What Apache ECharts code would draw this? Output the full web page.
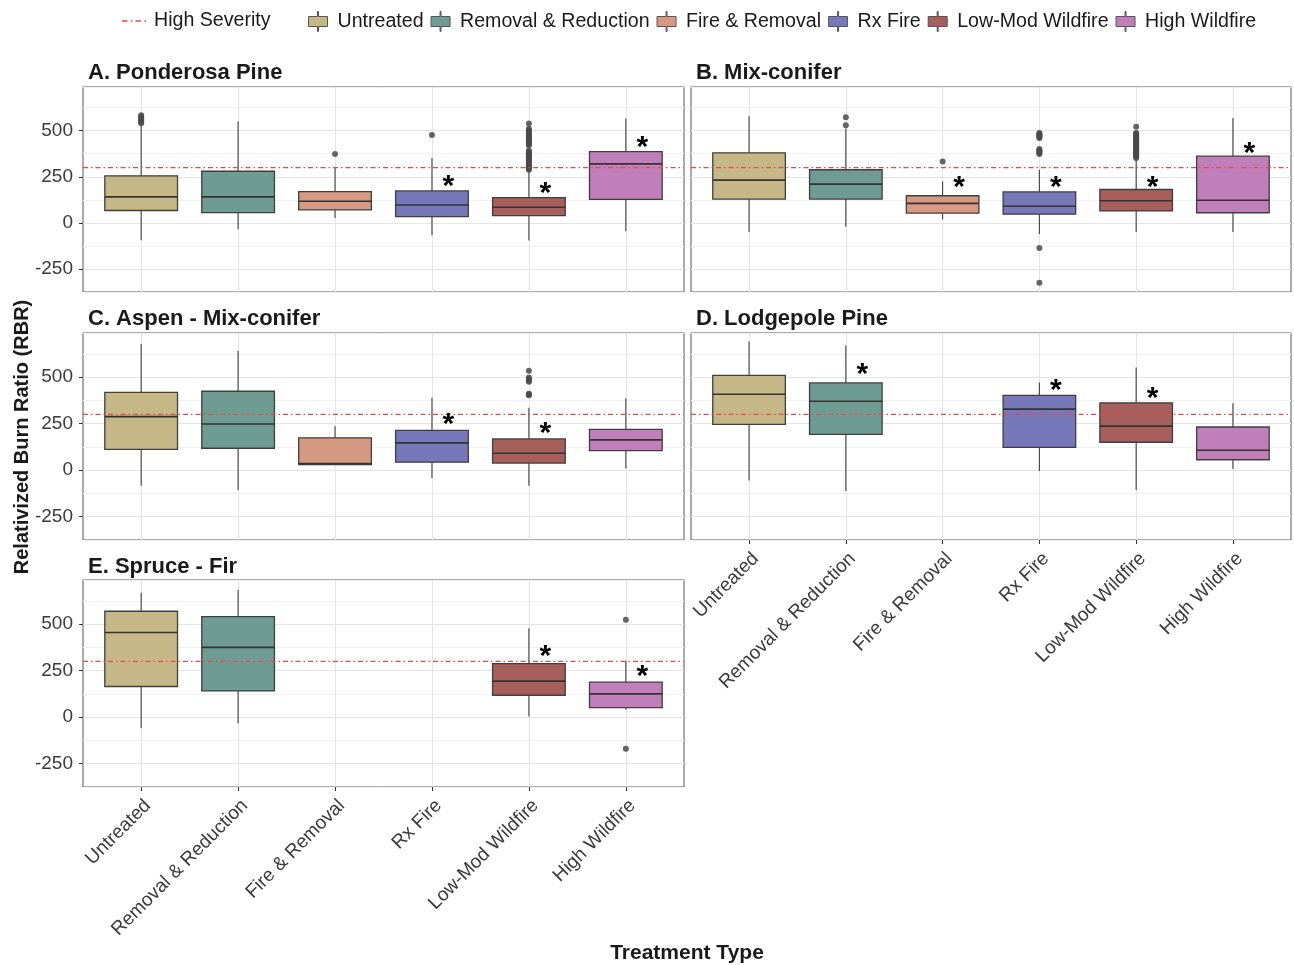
<!DOCTYPE html>
<html>
<head>
<meta charset="utf-8">
<script src="https://cdn.jsdelivr.net/npm/echarts@6/dist/echarts.min.js"></script>
<style>
  html, body { margin: 0; padding: 0; background: #ffffff; }
  #chart { width: 1294px; height: 965px; }
</style>
</head>
<body>
<div id="chart"></div>
<script>
// Treatment categories (x axis) and their fill colours
const treatments = ['Untreated', 'Removal & Reduction', 'Fire & Removal', 'Rx Fire', 'Low-Mod Wildfire', 'High Wildfire'];
const treatmentColors = ['#c6b886', '#6f9c92', '#d69a83', '#7678ba', '#a65f5a', '#c07fbb'];

const panelTitles = ['A. Ponderosa Pine', 'B. Mix-conifer', 'C. Aspen - Mix-conifer', 'D. Lodgepole Pine', 'E. Spruce - Fir'];

// High severity RBR threshold
const highSeverity = 300;

// Y axis tick labels
const yTicks = [-250, 0, 250, 500];

// Box summaries per treatment: [lower whisker, Q1, median, Q3, upper whisker]; null = no plots
const ponderosaBoxes = [
  [-94, 67, 141, 255, 530],
  [-34, 56, 141, 280, 551],
  [27, 71, 117, 170, 302],
  [-67, 34, 97, 173, 352],
  [-96, 39, 85, 137, 280],
  [-45, 127, 320, 386, 566]
];
const mixedConiferBoxes = [
  [-49, 129, 232, 380, 578],
  [-21, 129, 210, 288, 512],
  [18, 53, 106, 147, 224],
  [-60, 47, 90, 168, 288],
  [-49, 65, 120, 181, 345],
  [-49, 55, 123, 362, 569]
];
const aspenBoxes = [
  [-83, 112, 288, 418, 679],
  [-107, 118, 248, 424, 641],
  [30, 30, 36, 174, 236],
  [-42, 43, 147, 214, 389],
  [-83, 38, 91, 168, 335],
  [9, 105, 163, 219, 386]
];
const lodgepoleBoxes = [
  [-56, 246, 408, 509, 692],
  [-112, 192, 370, 469, 670],
  null,
  [-5, 123, 328, 402, 471],
  [-107, 150, 237, 362, 551],
  [7, 56, 107, 232, 359]
];
const spruceFirBoxes = [
  [-60, 165, 455, 569, 668],
  [-34, 141, 375, 540, 683],
  null,
  null,
  [4, 118, 194, 288, 478],
  [40, 51, 125, 188, 303]
];

// Outlying plots: [treatment number (1-6), RBR]
const ponderosaOutliers = [
  [1, 540], [1, 547], [1, 553], [1, 560], [1, 567], [1, 575], [1, 584],
  [3, 373],
  [4, 477],
  [5, 288], [5, 294], [5, 300], [5, 306], [5, 312], [5, 318], [5, 324], [5, 330],
  [5, 336], [5, 342], [5, 348], [5, 354], [5, 360], [5, 366], [5, 372], [5, 378],
  [5, 385], [5, 392], [5, 421], [5, 428], [5, 435], [5, 442], [5, 449], [5, 456],
  [5, 463], [5, 470], [5, 478], [5, 486], [5, 494], [5, 502], [5, 510], [5, 539]
];
const mixedConiferOutliers = [
  [2, 530], [2, 573],
  [3, 333],
  [4, 461], [4, 466], [4, 471], [4, 476], [4, 482], [4, 488],
  [4, 374], [4, 380], [4, 387], [4, 394], [4, 401], [4, -137], [4, -325],
  [5, 352], [5, 358], [5, 364], [5, 370], [5, 376], [5, 382], [5, 388], [5, 394],
  [5, 400], [5, 406], [5, 412], [5, 418], [5, 424], [5, 430], [5, 436], [5, 442],
  [5, 448], [5, 454], [5, 460], [5, 466], [5, 472], [5, 478], [5, 484], [5, 488], [5, 521]
];
const aspenOutliers = [
  [5, 402], [5, 407], [5, 411], [5, 475], [5, 482], [5, 490], [5, 498], [5, 534]
];
const lodgepoleOutliers = [];
const spruceFirOutliers = [[6, 524], [6, -170]];

// Significance markers (y position of the asterisk); null = not significant
const ponderosaStars = [null, null, null, 232, 195, 448];
const mixedConiferStars = [null, null, 228, 228, 228, 414];
const aspenStars = [null, null, null, 283, 235, null];
const lodgepoleStars = [null, 548, null, 462, 419, null];
const spruceFirStars = [null, null, null, null, 365, 256];

const panels = [
  { title: panelTitles[0], boxes: ponderosaBoxes, outliers: ponderosaOutliers, stars: ponderosaStars, showX: false, showY: true },
  { title: panelTitles[1], boxes: mixedConiferBoxes, outliers: mixedConiferOutliers, stars: mixedConiferStars, showX: false, showY: false },
  { title: panelTitles[2], boxes: aspenBoxes, outliers: aspenOutliers, stars: aspenStars, showX: false, showY: true },
  { title: panelTitles[3], boxes: lodgepoleBoxes, outliers: lodgepoleOutliers, stars: lodgepoleStars, showX: true, showY: false },
  { title: panelTitles[4], boxes: spruceFirBoxes, outliers: spruceFirOutliers, stars: spruceFirStars, showX: true, showY: true }
];

// Panel layout
const gridRects = [
  { left: 83, top: 87, width: 601, height: 205 },
  { left: 691, top: 87, width: 600, height: 205 },
  { left: 83, top: 333, width: 601, height: 207 },
  { left: 691, top: 333, width: 600, height: 207 },
  { left: 83, top: 580, width: 601, height: 207 }
];
const titleTops = [57, 57, 303, 303, 551];

const FONT = '"Liberation Sans", Arial, sans-serif';
const EDGE = '#3f3f3f';
const RED = '#ee4646';
const BOX_WIDTH = 0.75;
const STAR_OFFSET = 0.17;
const Y_MIN = -375, Y_MAX = 737;
const catPositions = [1, 2, 3, 4, 5, 6];

function renderBox(params, api) {
  const x = api.value(0);
  const lo = api.coord([x, api.value(1)]);
  const q1 = api.coord([x, api.value(2)]);
  const md = api.coord([x, api.value(3)]);
  const q3 = api.coord([x, api.value(4)]);
  const hi = api.coord([x, api.value(5)]);
  const w = api.size([BOX_WIDTH, 0])[0];
  const cx = q1[0];
  const fill = api.visual('color');
  return {
    type: 'group',
    children: [
      { type: 'line', shape: { x1: cx, y1: hi[1], x2: cx, y2: q3[1] }, style: { stroke: EDGE, lineWidth: 1.1 } },
      { type: 'line', shape: { x1: cx, y1: q1[1], x2: cx, y2: lo[1] }, style: { stroke: EDGE, lineWidth: 1.1 } },
      { type: 'rect', shape: { x: cx - w / 2, y: q3[1], width: w, height: q1[1] - q3[1] },
        style: { fill: fill, stroke: EDGE, lineWidth: 1.3 } },
      { type: 'line', shape: { x1: cx - w / 2, y1: md[1], x2: cx + w / 2, y2: md[1] },
        style: { stroke: '#333333', lineWidth: 1.6 } }
    ]
  };
}

function renderStar(params, api) {
  const p = api.coord([api.value(0), api.value(1)]);
  return {
    type: 'text',
    x: p[0], y: p[1] + 7,
    style: { text: '*', font: 'bold 30px ' + FONT, fill: '#000000', align: 'center', verticalAlign: 'middle' }
  };
}

const grid = [], xAxis = [], yAxis = [], series = [], title = [];

panels.forEach((panel, i) => {
  grid.push(Object.assign({ show: true, borderColor: '#595959', borderWidth: 1, backgroundColor: '#ffffff' }, gridRects[i]));
  title.push({
    text: panel.title, left: gridRects[i].left, top: titleTops[i],
    textStyle: { fontFamily: FONT, fontSize: 22, fontWeight: 'bold', color: '#1a1a1a' }
  });
  xAxis.push({
    type: 'value', gridIndex: i, min: 0.4, max: 6.6, position: 'bottom',
    axisLine: { show: false, onZero: false },
    axisTick: { show: panel.showX, customValues: catPositions, length: 4, lineStyle: { color: '#333333' } },
    axisLabel: {
      show: panel.showX, customValues: catPositions, rotate: 45, margin: 9, verticalAlign: 'top',
      fontFamily: FONT, fontSize: 19, color: '#3a3a3a',
      formatter: v => treatments[Math.round(v) - 1] || ''
    },
    splitLine: { show: true, lineStyle: { color: '#e4e4e4', width: 1 } }
  });
  // minor grid lines every 125
  yAxis.push({
    type: 'value', gridIndex: i, min: Y_MIN, max: Y_MAX, interval: 125, position: 'left',
    axisLine: { show: false, onZero: false }, axisTick: { show: false }, axisLabel: { show: false },
    splitLine: { show: true, lineStyle: { color: '#f1f1f1', width: 1 } }
  });
  // major ticks, labels and grid lines
  yAxis.push({
    type: 'value', gridIndex: i, min: Y_MIN, max: Y_MAX, position: 'left', offset: 0,
    axisLine: { show: false, onZero: false },
    axisTick: { show: panel.showY, customValues: yTicks, length: 4, lineStyle: { color: '#333333' } },
    axisLabel: { show: panel.showY, customValues: yTicks, margin: 10, fontFamily: FONT, fontSize: 19, color: '#3a3a3a' },
    splitLine: { show: true, lineStyle: { color: '#e4e4e4', width: 1.2 } }
  });

  panel.boxes.forEach((b, t) => {
    series.push({
      type: 'custom', name: treatments[t], xAxisIndex: i, yAxisIndex: 2 * i,
      itemStyle: { color: treatmentColors[t] },
      renderItem: renderBox, z: 2,
      encode: { x: 0, y: [1, 2, 3, 4, 5] },
      data: b ? [[t + 1].concat(b)] : []
    });
  });

  series.push({
    type: 'scatter', name: 'outliers', xAxisIndex: i, yAxisIndex: 2 * i,
    symbolSize: 6, itemStyle: { color: '#4a4a4a', opacity: 0.85 }, z: 3, silent: true,
    data: panel.outliers
  });

  series.push({
    type: 'line', name: 'High Severity', xAxisIndex: i, yAxisIndex: 2 * i,
    symbol: 'none', silent: true, z: 4,
    lineStyle: { color: RED, width: 1.3, type: [5, 3, 1.5, 3] },
    itemStyle: { color: RED },
    data: [[0.4, highSeverity], [6.6, highSeverity]]
  });

  const starData = [];
  panel.stars.forEach((s, t) => { if (s !== null) starData.push([t + 1 + STAR_OFFSET, s]); });
  series.push({
    type: 'custom', name: 'significance', xAxisIndex: i, yAxisIndex: 2 * i,
    renderItem: renderStar, z: 5, silent: true,
    encode: { x: 0, y: 1 },
    data: starData
  });
});

const BOX_ICON = 'path://M9,0 L10,0 L10,5 L19,5 L19,15 L10,15 L10,20 L9,20 L9,15 L0,15 L0,5 L9,5 Z';
const DOTDASH_ICON = 'path://M0,4.4 L5,4.4 L5,5.6 L0,5.6 Z M8,4.4 L9.5,4.4 L9.5,5.6 L8,5.6 Z M12.5,4.4 L17.5,4.4 L17.5,5.6 L12.5,5.6 Z M20.5,4.4 L22,4.4 L22,5.6 L20.5,5.6 Z';

const option = {
  backgroundColor: '#ffffff',
  animation: false,
  title: title,
  legend: [
    {
      data: [{ name: 'High Severity', icon: DOTDASH_ICON }], left: 117, top: 6,
      itemWidth: 24, itemHeight: 10,
      itemStyle: { color: RED, borderWidth: 0 },
      textStyle: { fontFamily: FONT, fontSize: 19.6, color: '#1a1a1a', padding: [0, 0, 0, 3] }
    },
    {
      data: treatments.map(n => ({ name: n, icon: BOX_ICON })), left: 303, top: 6,
      itemWidth: 19, itemHeight: 20, itemGap: 7,
      itemStyle: { borderColor: '#555555', borderWidth: 1 },
      textStyle: { fontFamily: FONT, fontSize: 19.6, color: '#1a1a1a', padding: [0, 0, 0, 5] }
    }
  ],
  grid: grid,
  xAxis: xAxis,
  yAxis: yAxis,
  series: series,
  graphic: [
    {
      type: 'text', x: 22, y: 437, rotation: Math.PI / 2,
      style: { text: 'Relativized Burn Ratio (RBR)', font: 'bold 20px ' + FONT, fill: '#1a1a1a', align: 'center', verticalAlign: 'middle' }
    },
    {
      type: 'text', x: 687, y: 953,
      style: { text: 'Treatment Type', font: 'bold 21px ' + FONT, fill: '#1a1a1a', align: 'center', verticalAlign: 'middle' }
    }
  ]
};

const chart = echarts.init(document.getElementById('chart'), null, { renderer: 'canvas' });
chart.setOption(option);
</script>
</body>
</html>
